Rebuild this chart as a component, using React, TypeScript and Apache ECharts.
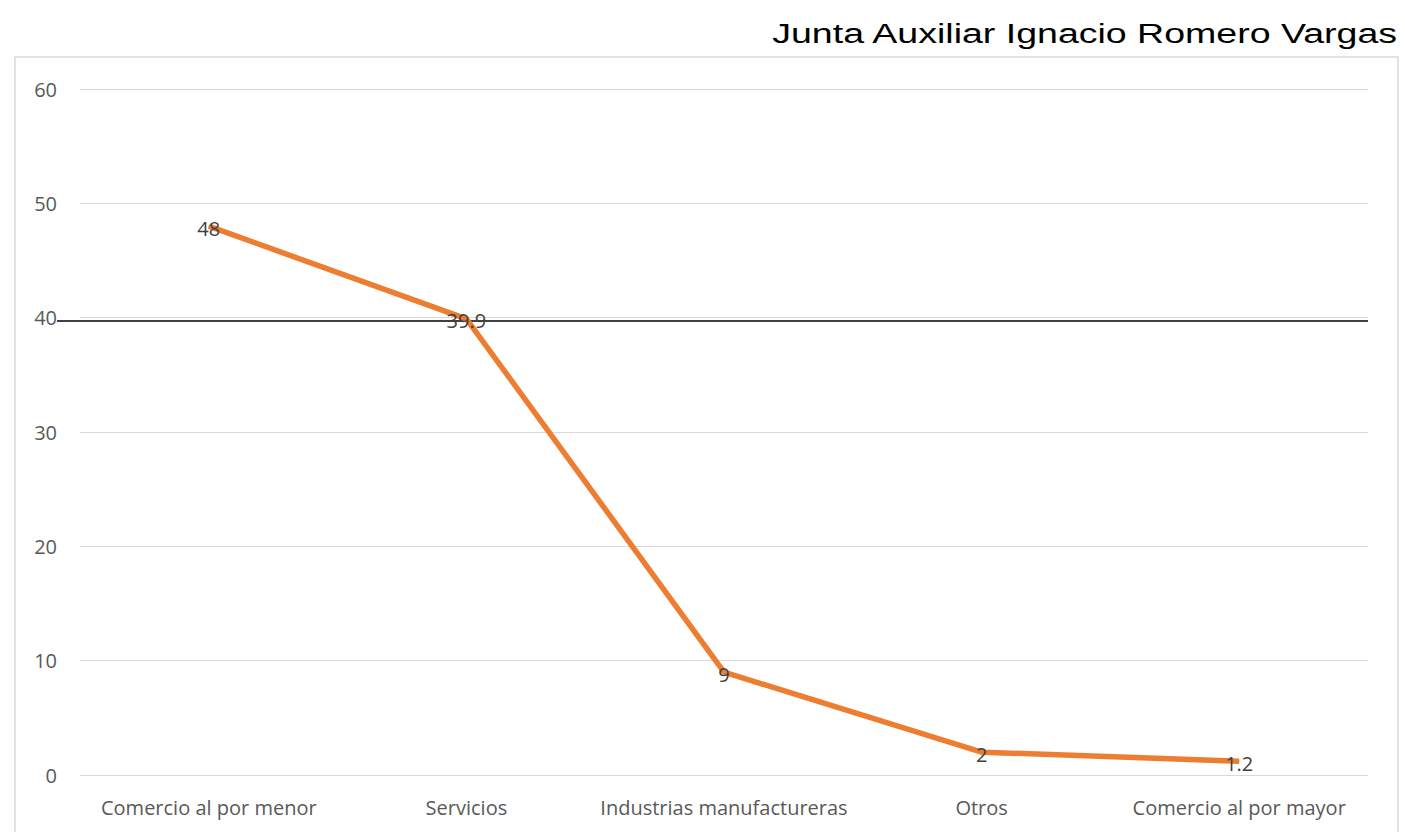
import React, { useEffect, useRef } from "react";
import * as echarts from "echarts";

const categories = [
  "Comercio al por menor",
  "Servicios",
  "Industrias manufactureras",
  "Otros",
  "Comercio al por mayor",
];
const values = [48, 39.9, 9, 2, 1.2];
const yTicks = { min: 0, max: 60, interval: 10 };
const titleText = "Junta Auxiliar Ignacio Romero Vargas";
const referenceLineValue = 39.7;

export default function App() {
  const ref = useRef<HTMLDivElement>(null);
  useEffect(() => {
    if (!ref.current) return;
    const chart = echarts.init(ref.current, undefined, { renderer: "svg" });
    const font = "'Open Sans', 'Noto Sans', sans-serif";
    const frame = {
      type: "rect",
      shape: { x: 15, y: 57, width: 1383, height: 800 },
      style: { fill: "none", stroke: "#d9d9d9", lineWidth: 1.5 },
      silent: true,
      z: 0,
    };
    const title = {
      type: "text",
      x: 1397,
      y: 33,
      scaleX: 1.34,
      style: {
        text: titleText,
        fontFamily: "'Liberation Sans', Arial, sans-serif",
        fontSize: 28,
        fill: "#000000",
        textAlign: "right",
        textVerticalAlign: "middle",
      },
      silent: true,
    };
    chart.setOption({
      animation: false,
      backgroundColor: "#ffffff",
      grid: { left: 80, right: 37, top: 89, bottom: 57, containLabel: false },
      xAxis: {
        type: "category",
        data: categories,
        boundaryGap: true,
        axisLine: { show: false },
        axisTick: { show: false },
        axisLabel: {
          interval: 0,
          margin: 22,
          fontFamily: font,
          fontSize: 20,
          color: "#595959",
        },
      },
      yAxis: {
        type: "value",
        min: yTicks.min,
        max: yTicks.max,
        interval: yTicks.interval,
        axisLine: { show: false },
        axisTick: { show: false },
        axisLabel: {
          margin: 23,
          fontFamily: font,
          fontSize: 20,
          color: "#595959",
        },
        splitLine: { lineStyle: { color: "#d9d9d9", width: 1 } },
      },
      series: [
        {
          type: "line",
          data: values,
          symbol: "circle",
          symbolSize: 1,
          showSymbol: true,
          lineStyle: { color: "#ED7D31", width: 5.5 },
          itemStyle: { color: "#ED7D31" },
          label: {
            show: true,
            position: "inside",
            offset: [0, 2],
            fontFamily: font,
            fontSize: 20,
            color: "#404040",
          },
          z: 3,
        },
      ],
      graphic: [frame, title],
    });
    const yPix = chart.convertToPixel({ yAxisIndex: 0 }, referenceLineValue) as number;
    chart.setOption({
      graphic: [
        frame,
        title,
        {
          type: "line",
          shape: { x1: 57, y1: yPix, x2: 1368, y2: yPix },
          style: { stroke: "#404040", lineWidth: 2 },
          silent: true,
          z: 2,
        },
      ],
    });
    return () => chart.dispose();
  }, []);
  return (
    <div
      ref={ref}
      style={{ position: "fixed", left: 0, top: 0, width: 1405, height: 832 }}
    />
  );
}
